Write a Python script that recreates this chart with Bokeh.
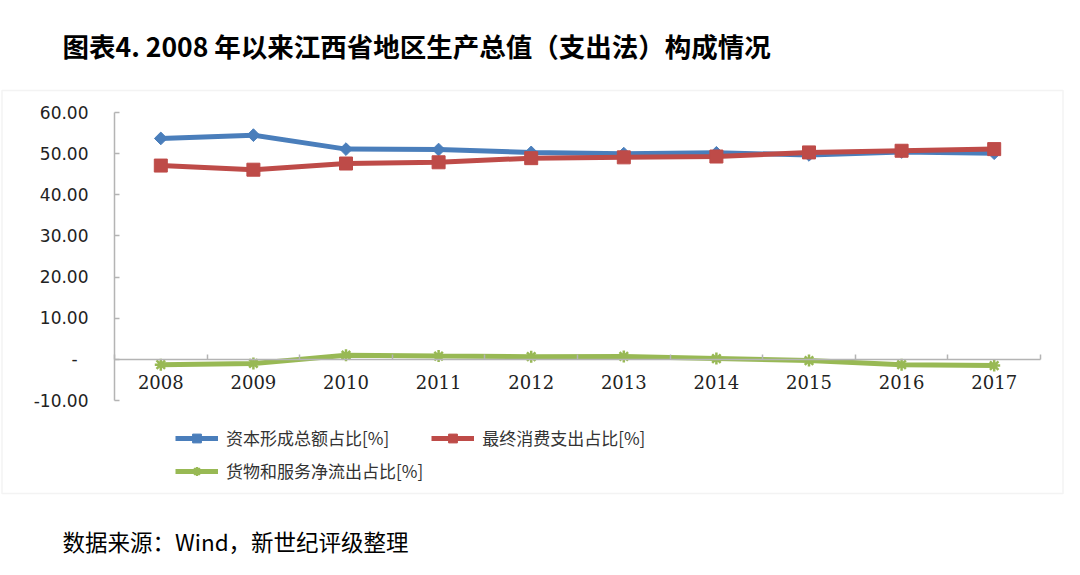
import math
from bokeh.plotting import figure
from bokeh.models import (LinearAxis, FixedTicker, CustomJSTickFormatter, Legend,
                          LegendItem, Label, BoxAnnotation, Range1d)
from bokeh.embed import file_html
from bokeh.resources import INLINE

# ---------------- data ----------------
years = ["2008", "2009", "2010", "2011", "2012", "2013", "2014", "2015", "2016", "2017"]
capital = [53.7, 54.5, 51.1, 51.0, 50.3, 50.0, 50.2, 49.7, 50.4, 50.1]        # 资本形成总额占比
consumption = [47.1, 46.1, 47.6, 47.9, 48.9, 49.1, 49.3, 50.3, 50.7, 51.1]    # 最终消费支出占比
net_export = [-1.3, -1.0, 1.0, 0.8, 0.65, 0.7, 0.2, -0.3, -1.3, -1.5]         # 货物和服务净流出占比
y_ticks = [-10, 0, 10, 20, 30, 40, 50, 60]
series_names = ["资本形成总额占比[%]", "最终消费支出占比[%]", "货物和服务净流出占比[%]"]
title_text = "图表4. 2008 年以来江西省地区生产总值（支出法）构成情况"
source_text = "数据来源：Wind，新世纪评级整理"

# ---------------- layout (pixel geometry) ----------------
W, H = 1064, 559
AX_L, AX_R, AX_T, AX_B = 114, 1040, 112, 400   # plot area of the chart (px)
Y0, Y1 = -10, 60
NX = len(years)
KX = (AX_R - AX_L) / NX          # px per x unit
KY = (AX_B - AX_T) / (Y1 - Y0)   # px per y unit

BLUE = "#4A7EBB"
RED = "#BE4B48"
GREEN = "#98B954"
AXIS_GRAY = "#b4b4b4"
CJK = "Noto Sans CJK SC"


def px_x(px):
    return (px - AX_L) / KX


def px_y(py):
    return Y1 - (py - AX_T) / KY


p = figure(width=W, height=H,
           x_range=Range1d(px_x(0), px_x(W)), y_range=Range1d(px_y(H), px_y(0)),
           output_backend="svg", toolbar_location=None,
           x_axis_location=None, y_axis_location=None,
           min_border=0, min_border_left=0, min_border_right=0,
           min_border_top=0, min_border_bottom=0,
           background_fill_color="white", border_fill_color="white")
p.outline_line_color = None
p.xgrid.visible = False
p.ygrid.visible = False

xs = [i + 0.5 for i in range(NX)]

# ---------------- axes ----------------
yaxis = LinearAxis(ticker=FixedTicker(ticks=y_ticks),
                   formatter=CustomJSTickFormatter(
                       code="return tick == 0 ? '-\u2007' : tick.toFixed(2);"),
                   fixed_location=0, bounds=(Y0, Y1),
                   major_tick_in=5, major_tick_out=0, minor_tick_line_color=None,
                   axis_line_color=AXIS_GRAY, axis_line_width=1.5,
                   major_tick_line_color=AXIS_GRAY, major_tick_line_width=1.5,
                   major_label_standoff=26, major_label_text_font="DejaVu Sans",
                   major_label_text_font_size="17px", major_label_text_color="#222222")
p.add_layout(yaxis, "left")

xaxis = LinearAxis(ticker=FixedTicker(ticks=xs),
                   formatter=CustomJSTickFormatter(args=dict(labels=years),
                                                   code="return labels[Math.floor(tick)];"),
                   fixed_location=0, bounds=(0, NX),
                   major_tick_line_color=None, minor_tick_line_color=None,
                   axis_line_color=AXIS_GRAY, axis_line_width=1.5,
                   major_label_standoff=10, major_label_text_font="DejaVu Serif",
                   major_label_text_font_size="18px", major_label_text_color="#222222")
p.add_layout(xaxis, "below")

tick_axis = LinearAxis(ticker=FixedTicker(ticks=list(range(NX + 1))),
                       formatter=CustomJSTickFormatter(code="return '';"),
                       fixed_location=0, bounds=(0, NX), axis_line_color=None,
                       major_tick_in=5, major_tick_out=0,
                       major_tick_line_color=AXIS_GRAY, major_tick_line_width=1.5,
                       minor_tick_line_color=None)
p.add_layout(tick_axis, "below")

# ---------------- series ----------------
l1 = p.line(xs, capital, line_width=5, color=BLUE)
m1 = p.scatter(xs, capital, marker="square", angle=math.pi / 4, size=9, color=BLUE)
l2 = p.line(xs, consumption, line_width=5, color=RED)
m2 = p.scatter(xs, consumption, marker="square", size=13, color=RED)
l3 = p.line(xs, net_export, line_width=5, color=GREEN)
m3 = p.scatter(xs, net_export, marker="asterisk", size=12, line_width=2.5, color=GREEN)

# legend: bottom-left corner given relative to the frame's bottom-left
legend = Legend(items=[LegendItem(label=series_names[0], renderers=[l1, m1]),
                       LegendItem(label=series_names[1], renderers=[l2, m2]),
                       LegendItem(label=series_names[2], renderers=[l3, m3])],
                location=(175, H - 483), orientation="horizontal", ncols=2,
                glyph_width=43, glyph_height=22, label_height=22,
                label_standoff=8, spacing=8, padding=0, margin=0,
                border_line_color=None, background_fill_alpha=0,
                label_text_font=CJK, label_text_font_size="17px",
                label_text_color="#333333")
p.add_layout(legend)

# ---------------- chart border, title, source ----------------
p.add_layout(BoxAnnotation(left=px_x(1.5), right=px_x(W - 1.5),
                           top=px_y(90), bottom=px_y(493),
                           fill_alpha=0, line_color="#d6d6d6", line_width=1.5))

p.add_layout(Label(x=px_x(62), y=px_y(45), text=title_text, text_font=CJK,
                   text_font_style="bold", text_font_size="26.5px",
                   text_baseline="middle", text_align="left", text_color="#000000"))
p.add_layout(Label(x=px_x(62), y=px_y(540), text=source_text, text_font=CJK,
                   text_font_size="22.5px", text_baseline="middle",
                   text_align="left", text_color="#000000"))

open("out.html", "w").write(file_html(p, INLINE))
